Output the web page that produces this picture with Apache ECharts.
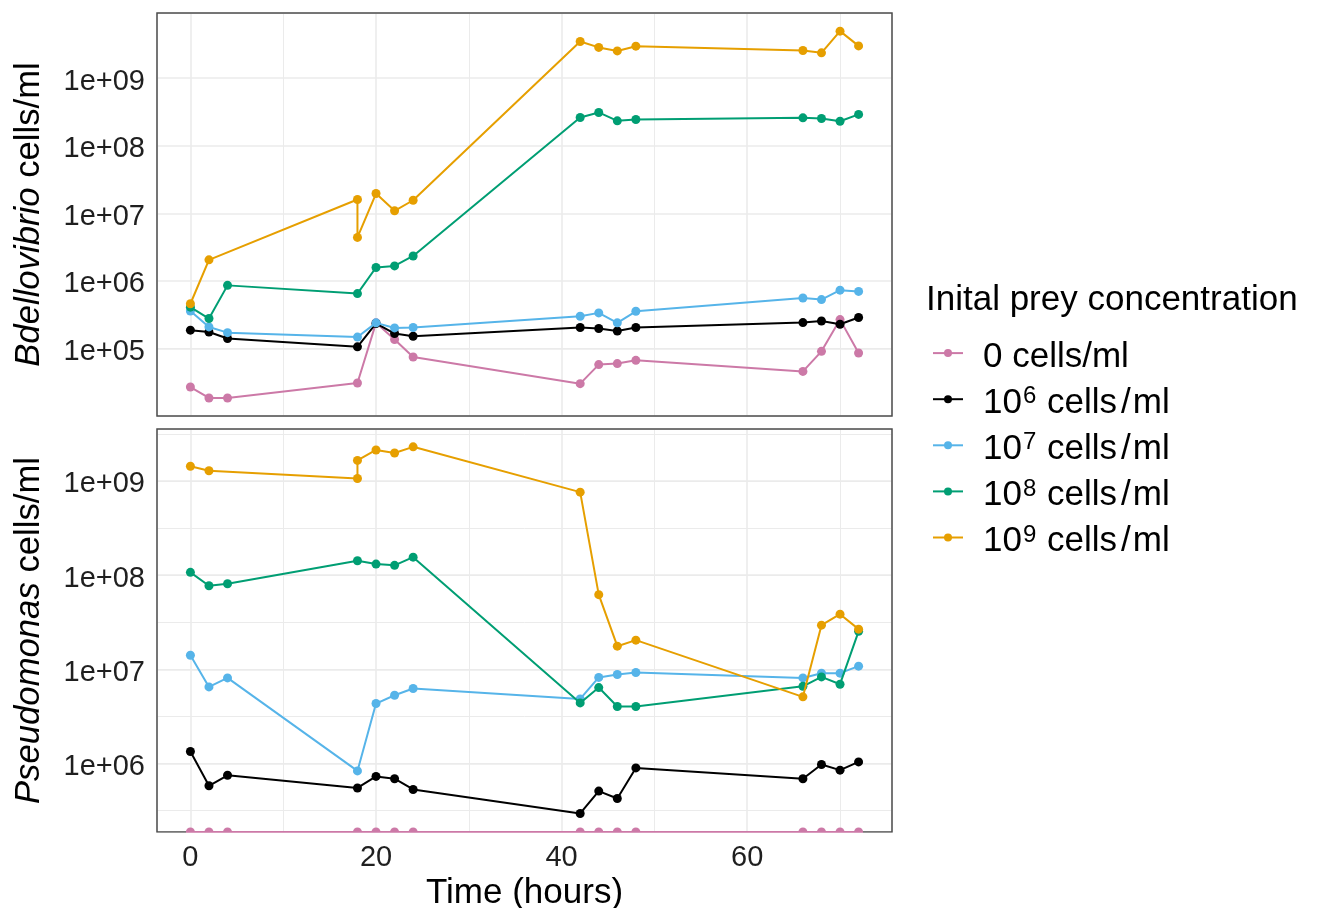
<!DOCTYPE html>
<html>
<head>
<meta charset="utf-8">
<script src="https://cdn.jsdelivr.net/npm/echarts@6/dist/echarts.min.js"></script>
<style>
  html, body { margin: 0; padding: 0; background: #ffffff; }
  #chart { width: 1319px; height: 908px; }
</style>
</head>
<body>
<div id="chart"></div>
<script>
// Sampling times (hours). The 10^9 culture was sampled twice at 18 h and skipped 4 h.
const hours     = [0, 2, 4, 18, 20, 22, 24, 42, 44, 46, 48, 66, 68, 70, 72];
const hoursHigh = [0, 2, 18, 18, 20, 22, 24, 42, 44, 46, 48, 66, 68, 70, 72];

// Legend entries (initial prey concentration) and their colours
const groupNames  = ['0 cells/ml', '10^6 cells/ml', '10^7 cells/ml', '10^8 cells/ml', '10^9 cells/ml'];
const groupColors = ['#CC79A7', '#000000', '#56B4E9', '#009E73', '#E69F00'];

// Bdellovibrio counts (cells/ml)
const bdello0 = [2.7e4, 1.86e4, 1.86e4, 3.1e4, 2.4e5, 1.36e5, 7.5e4, 3.03e4, 5.8e4, 6.0e4, 6.7e4, 4.6e4, 9.1e4, 2.68e5, 8.6e4];
const bdello6 = [1.87e5, 1.76e5, 1.41e5, 1.06e5, 2.35e5, 1.67e5, 1.52e5, 2.05e5, 1.98e5, 1.82e5, 2.05e5, 2.42e5, 2.56e5, 2.29e5, 2.88e5];
const bdello7 = [3.6e5, 2.09e5, 1.72e5, 1.48e5, 2.4e5, 2.02e5, 2.05e5, 3.0e5, 3.37e5, 2.4e5, 3.56e5, 5.6e5, 5.3e5, 7.3e5, 7.0e5];
const bdello8 = [4.1e5, 2.78e5, 8.6e5, 6.5e5, 1.58e6, 1.67e6, 2.34e6, 2.61e8, 3.1e8, 2.33e8, 2.44e8, 2.58e8, 2.52e8, 2.3e8, 2.9e8];
const bdello9 = [4.6e5, 2.05e6, 1.6e7, 4.4e6, 1.96e7, 1.09e7, 1.56e7, 3.47e9, 2.84e9, 2.52e9, 2.96e9, 2.56e9, 2.36e9, 4.94e9, 2.99e9];

// Pseudomonas counts (cells/ml); the 0 cells/ml culture had no prey
const pseudo0 = [0, 0, 0, 0, 0, 0, 0, 0, 0, 0, 0, 0, 0, 0, 0];
const pseudo6 = [1.34e6, 5.8e5, 7.5e5, 5.5e5, 7.3e5, 6.9e5, 5.3e5, 2.95e5, 5.1e5, 4.25e5, 8.98e5, 6.9e5, 9.75e5, 8.5e5, 1.04e6];
const pseudo7 = [1.41e7, 6.5e6, 8.1e6, 8.35e5, 4.33e6, 5.3e6, 6.25e6, 4.85e6, 8.2e6, 8.8e6, 9.25e6, 8.1e6, 9.1e6, 9.1e6, 1.08e7];
const pseudo8 = [1.07e8, 7.7e7, 8.1e7, 1.42e8, 1.31e8, 1.27e8, 1.55e8, 4.4e6, 6.4e6, 4.03e6, 4.03e6, 6.6e6, 8.3e6, 6.95e6, 2.53e7];
const pseudo9 = [1.43e9, 1.28e9, 1.06e9, 1.65e9, 2.13e9, 1.98e9, 2.3e9, 7.6e8, 6.2e7, 1.76e7, 2.04e7, 5.1e6, 2.94e7, 3.85e7, 2.67e7];

// Axis ranges and tick labels
const timeRange   = [-3.6, 75.6];
const timeTicks   = [0, 20, 40, 60];
const bdelloRange = [1.007e4, 9.16e9];
const pseudoRange = [1.875e5, 3.556e9];

const FONT = '"Liberation Sans", Arial, Helvetica, sans-serif';
const GRID_MAJOR = '#EBEBEB';

// Panel geometry
const PLOT_LEFT = 157, PLOT_WIDTH = 735, PANEL_HEIGHT = 403;
const PANEL_TOPS = [13, 429];

const panels = [
  { title: '{i|Bdellovibrio} cells/ml', range: bdelloRange,
    series: [bdello0, bdello6, bdello7, bdello8, bdello9] },
  { title: '{i|Pseudomonas} cells/ml', range: pseudoRange,
    series: [pseudo0, pseudo6, pseudo7, pseudo8, pseudo9] }
];

function logLabel(v) {
  const e = Math.log10(v);
  const r = Math.round(e);
  if (Math.abs(e - r) > 1e-6) return '';
  return '{v|1e+' + (r < 10 ? '0' + r : String(r)) + '}';
}

const grids = [], xAxes = [], yAxes = [], series = [];

panels.forEach((panel, p) => {
  grids.push({
    left: PLOT_LEFT, top: PANEL_TOPS[p], width: PLOT_WIDTH, height: PANEL_HEIGHT,
    show: false, containLabel: false, outerBoundsMode: 'none'
  });

  const isBottom = p === panels.length - 1;
  xAxes.push({
    type: 'value', gridIndex: p, min: timeRange[0], max: timeRange[1],
    axisLine: { show: false }, axisTick: { show: false },
    axisLabel: {
      show: isBottom, margin: 11, fontSize: 29, fontFamily: FONT, color: '#1f1f1f',
      showMinLabel: false, showMaxLabel: false,
      formatter: v => (timeTicks.includes(v) ? String(v) : '')
    },
    splitLine: { show: true, lineStyle: { color: GRID_MAJOR, width: 1.6 } },
    minorTick: { show: false, splitNumber: 2 },
    minorSplitLine: { show: true, lineStyle: { color: GRID_MAJOR, width: 1 } },
    name: isBottom ? 'Time (hours)' : '',
    nameLocation: 'middle', nameGap: 44,
    nameTextStyle: { fontSize: 35, fontFamily: FONT, color: '#000' }
  });

  // decade axis: carries the data, labels and major grid
  const majorIndex = yAxes.length;
  yAxes.push({
    type: 'log', logBase: 10, gridIndex: p, min: panel.range[0], max: panel.range[1],
    axisLine: { show: false }, axisTick: { show: false },
    axisLabel: {
      margin: 12, fontSize: 29, fontFamily: FONT, color: '#1f1f1f',
      showMinLabel: false, showMaxLabel: false, formatter: logLabel,
      rich: { v: { fontSize: 29, fontFamily: FONT, color: '#1f1f1f', padding: [7, 0, 0, 0] } }
    },
    splitLine: { show: true, lineStyle: { color: GRID_MAJOR, width: 1.6 } },
    name: panel.title, nameLocation: 'middle', nameGap: 110,
    nameTextStyle: {
      fontSize: 34.7, fontFamily: FONT, color: '#000',
      rich: { i: { fontSize: 34.7, fontFamily: FONT, fontStyle: 'italic', color: '#000' } }
    }
  });
  // half-decade axis: only draws the minor grid
  yAxes.push({
    type: 'log', logBase: Math.sqrt(10), splitNumber: 12, gridIndex: p,
    min: panel.range[0], max: panel.range[1],
    axisLine: { show: false }, axisTick: { show: false }, axisLabel: { show: false },
    splitLine: { show: true, lineStyle: { color: GRID_MAJOR, width: 1 } }
  });

  panel.series.forEach((values, g) => {
    const times = g === 4 ? hoursHigh : hours;
    // zero counts sit on the panel floor (a log scale has no zero)
    const data = values.map((v, k) => [times[k], v > 0 ? v : panel.range[0]]);
    series.push({
      type: 'line', name: groupNames[g], xAxisIndex: p, yAxisIndex: majorIndex,
      data, symbol: 'circle', symbolSize: 9, clip: false,
      lineStyle: { color: groupColors[g], width: 2 },
      itemStyle: { color: groupColors[g] },
      emphasis: { disabled: true }, z: 2 + g * 0.01
    });
  });
});

// Legend labels with superscript exponents
function legendLabel(name) {
  const m = name.match(/^10\^(\d+) cells\/ml$/);
  if (!m) return '{lead|' + name + '}';
  return '{base|10}{sup|' + m[1] + '}{t| cells}{sl|/}{t|ml}';
}

const LEG_FS = 35, LEG_LH = 36;
const legendRich = {
  lead: { fontSize: LEG_FS, lineHeight: LEG_LH, fontFamily: FONT, color: '#000', padding: [8, 0, 0, 15] },
  base: { fontSize: LEG_FS, lineHeight: LEG_LH, fontFamily: FONT, color: '#000', padding: [8, 0, 0, 15] },
  t:    { fontSize: LEG_FS, lineHeight: LEG_LH, fontFamily: FONT, color: '#000', padding: [8, 0, 0, 0] },
  sl:   { fontSize: LEG_FS, lineHeight: LEG_LH, fontFamily: FONT, color: '#000', padding: [8, 2, 0, 4] },
  sup:  { fontSize: 24, lineHeight: LEG_LH, fontFamily: FONT, color: '#000', padding: [0, 1, 5, 1] }
};

const graphics = PANEL_TOPS.map(top => ({
  type: 'rect', z: 1, silent: true,
  shape: { x: PLOT_LEFT, y: top, width: PLOT_WIDTH, height: PANEL_HEIGHT },
  style: { fill: null, stroke: '#4d4d4d', lineWidth: 1.5 }
}));
// points on the floor of the lower panel are clipped to the panel
graphics.push({
  type: 'rect', z: 10, silent: true,
  shape: { x: PLOT_LEFT - 1, y: PANEL_TOPS[1] + PANEL_HEIGHT + 0.8, width: PLOT_WIDTH + 2, height: 7 },
  style: { fill: '#ffffff' }
});
graphics.push({
  type: 'text', z: 1, silent: true, x: 926, y: 300.4,
  style: { text: 'Inital prey concentration', font: '35px ' + FONT, fill: '#000',
           align: 'left', verticalAlign: 'middle' }
});

const chart = echarts.init(document.getElementById('chart'), null, { renderer: 'canvas' });
chart.setOption({
  animation: false,
  backgroundColor: '#ffffff',
  grid: grids,
  xAxis: xAxes,
  yAxis: yAxes,
  legend: {
    orient: 'vertical', left: 927, top: 326.6, itemWidth: 30, itemHeight: 10, itemGap: 3.1,
    selectedMode: false, data: groupNames,
    formatter: legendLabel,
    textStyle: { fontSize: LEG_FS, fontFamily: FONT, color: '#000', rich: legendRich }
  },
  graphic: graphics,
  series
});
</script>
</body>
</html>
